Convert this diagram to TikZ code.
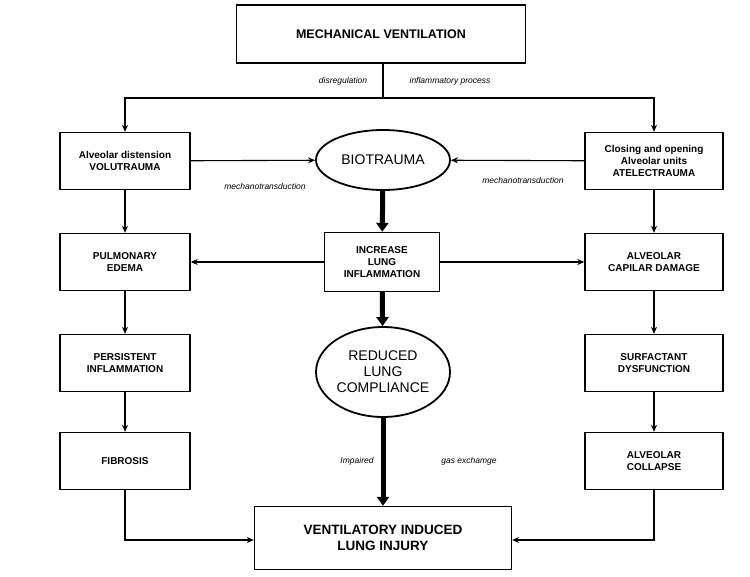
\documentclass[tikz,border=0pt]{standalone}
\usepackage{fontspec}
\setmainfont{Liberation Sans}
\usetikzlibrary{arrows.meta,shapes.geometric}
\begin{document}
\begin{tikzpicture}[x=1pt,y=-1pt,
 box/.style={draw,line width=1.4pt,fill=white,align=center,font=\bfseries\fontsize{10}{12}\selectfont,minimum width=130pt,minimum height=57pt,inner sep=2pt},
 ell/.style={draw,ellipse,line width=1.8pt,align=center,minimum width=134pt,inner sep=1pt},
 arr/.style={-{Stealth[length=7pt,width=6pt]},line width=1.1pt},
 thick arr/.style={-{Triangle[length=9pt,width=12pt]},line width=5pt},
 lab/.style={font=\itshape\fontsize{8.5}{10}\selectfont}]
\useasboundingbox (0,0) rectangle (750,576);
\node[box,minimum width=289pt,minimum height=58pt,font=\bfseries\fontsize{12.5}{14}\selectfont] (mv) at (381,34) {MECHANICAL VENTILATION};
\node[box] (l1) at (125,161) {Alveolar distension\\VOLUTRAUMA};
\node[box,minimum width=138pt] (r1) at (654,161) {Closing and opening\\Alveolar units\\ATELECTRAUMA};
\node[ell,minimum height=60pt,font=\fontsize{14}{16}\selectfont] (bio) at (383,160) {BIOTRAUMA};
\node[box,minimum width=115pt,minimum height=59pt] (inc) at (382,262) {INCREASE\\LUNG\\INFLAMMATION};
\node[box] (l2) at (125,262) {PULMONARY\\EDEMA};
\node[box,minimum width=138pt] (r2) at (654,262) {ALVEOLAR\\CAPILAR DAMAGE};
\node[ell,minimum height=90pt,font=\fontsize{14}{16}\selectfont] (red) at (383,372) {REDUCED\\LUNG\\COMPLIANCE};
\node[box] (l3) at (125,363) {PERSISTENT\\INFLAMMATION};
\node[box,minimum width=138pt] (r3) at (654,363) {SURFACTANT\\DYSFUNCTION};
\node[box] (l4) at (125,461) {FIBROSIS};
\node[box,minimum width=138pt] (r4) at (654,461) {ALVEOLAR\\COLLAPSE};
\node[box,minimum width=257pt,minimum height=63pt,font=\bfseries\fontsize{13.5}{16}\selectfont] (vili) at (383,538) {VENTILATORY INDUCED\\LUNG INJURY};
\coordinate (j) at (383,98);
\draw[line width=1.1pt] (mv.south -| j) -- (j);
\draw[arr] (j) -| (l1.north);
\draw[arr] (j) -| (r1.north);
\draw[arr] (l1) -- (bio);
\draw[arr] (r1) -- (bio);
\draw[thick arr] (bio) -- (inc);
\draw[arr] (inc) -- (l2);
\draw[arr] (inc) -- (r2);
\draw[thick arr] (inc) -- (red);
\draw[thick arr] (red) -- (vili);
\draw[arr] (l1) -- (l2);
\draw[arr] (l2) -- (l3);
\draw[arr] (l3) -- (l4);
\draw[arr] (r1) -- (r2);
\draw[arr] (r2) -- (r3);
\draw[arr] (r3) -- (r4);
\draw[arr] (l4.south) |- (vili.west |- 0,540);
\draw[arr] (r4.south) |- (vili.east |- 0,540);
\node[lab] (t1) at (343,81) {disregulation};
\node[lab] (t2) at (450,81) {inflammatory process};
\node[lab] (t3) at (265,186) {mechanotransduction};
\node[lab] (t4) at (523,180) {mechanotransduction};
\node[lab] (t5) at (357,461) {Impaired};
\node[lab] (t6) at (469,461) {gas exchamge};
\end{tikzpicture}
\end{document}
